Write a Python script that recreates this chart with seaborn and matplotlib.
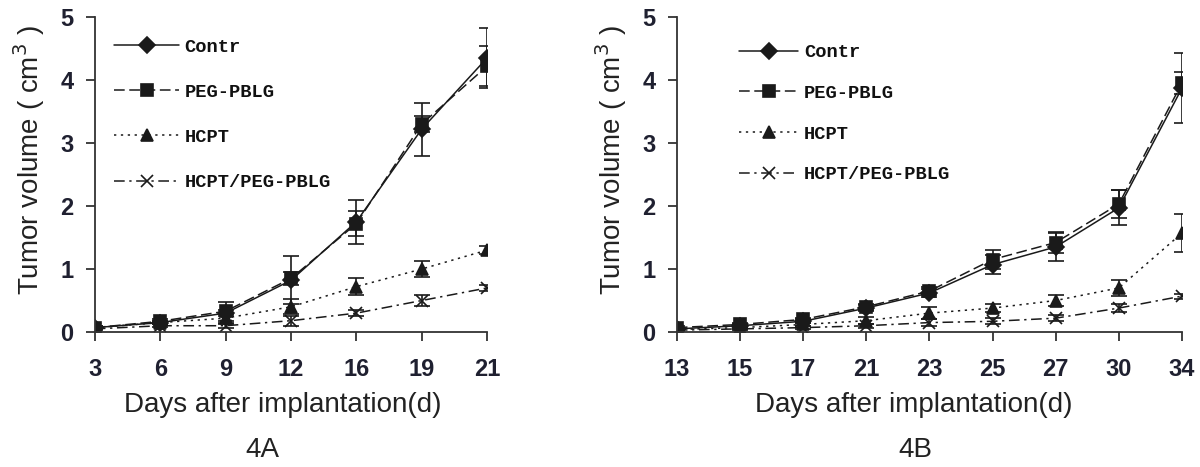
import numpy as np
import pandas as pd
import matplotlib
matplotlib.use("Agg")
import matplotlib.pyplot as plt
import seaborn as sns

# ---- data ----
series_names = ["Contr", "PEG-PBLG", "HCPT", "HCPT/PEG-PBLG"]

days_a = [3, 6, 9, 12, 16, 19, 21]
contr_a = [0.07, 0.15, 0.30, 0.82, 1.75, 3.22, 4.35]
contr_a_err = [0.02, 0.03, 0.05, 0.38, 0.35, 0.42, 0.48]
peg_a = [0.07, 0.17, 0.33, 0.85, 1.72, 3.30, 4.22]
peg_a_err = [0.02, 0.03, 0.15, 0.10, 0.20, 0.12, 0.32]
hcpt_a = [0.07, 0.15, 0.22, 0.40, 0.72, 1.00, 1.30]
hcpt_a_err = [0.02, 0.03, 0.07, 0.12, 0.13, 0.13, 0.07]
combo_a = [0.05, 0.10, 0.10, 0.18, 0.30, 0.50, 0.70]
combo_a_err = [0.02, 0.02, 0.03, 0.08, 0.05, 0.08, 0.05]

days_b = [13, 15, 17, 21, 23, 25, 27, 30, 34]
contr_b = [0.05, 0.10, 0.17, 0.38, 0.62, 1.07, 1.35, 1.97, 3.87]
contr_b_err = [0.02, 0.02, 0.03, 0.05, 0.06, 0.15, 0.22, 0.28, 0.55]
peg_b = [0.07, 0.12, 0.20, 0.40, 0.65, 1.15, 1.42, 2.03, 3.95]
peg_b_err = [0.02, 0.02, 0.03, 0.05, 0.06, 0.15, 0.17, 0.22, 0.18]
hcpt_b = [0.04, 0.07, 0.12, 0.18, 0.30, 0.38, 0.50, 0.70, 1.57]
hcpt_b_err = [0.01, 0.02, 0.03, 0.06, 0.10, 0.07, 0.08, 0.13, 0.30]
combo_b = [0.03, 0.05, 0.07, 0.10, 0.15, 0.17, 0.22, 0.38, 0.57]
combo_b_err = [0.01, 0.01, 0.02, 0.03, 0.05, 0.05, 0.05, 0.07, 0.04]

y_ticks = [0, 1, 2, 3, 4, 5]
panel_labels = ["4A", "4B"]

sns.set_theme(style="white")
plt.rcParams["font.family"] = ["Liberation Sans", "DejaVu Sans"]

fig = plt.figure(figsize=(12, 4.67), dpi=100)
ax_a = fig.add_axes([0.079, 0.289, 0.327, 0.675])
ax_b = fig.add_axes([0.564, 0.289, 0.421, 0.675])

styles = [
    dict(ls="-", marker="D", ms=8),
    dict(ls=(0, (7, 3)), marker="s", ms=8),
    dict(ls=(0, (1.5, 3)), marker="^", ms=9),
    dict(ls=(0, (7, 3, 1.5, 3)), marker="x", ms=8),
]
ink = "#1a1a1a"
tick_col = "#1f2030"


def draw(ax, days, vals, errs, label_pos, spacing, handle_len, panel, panel_x,
         ylab_x, xlab_x):
    pos = np.arange(len(days))
    rows = []
    for name, v in zip(series_names, vals):
        for p, y in zip(pos, v):
            rows.append(dict(pos=p, vol=y, group=name))
    df = pd.DataFrame(rows)
    for name, v, e, st in zip(series_names, vals, errs, styles):
        sub = df[df.group == name]
        sns.lineplot(data=sub, x="pos", y="vol", ax=ax, color=ink, lw=1.1,
                     linestyle=st["ls"], marker=st["marker"], markersize=st["ms"],
                     markeredgecolor=ink, markerfacecolor=ink, markeredgewidth=1.2,
                     label=name, legend=False)
        ax.errorbar(pos, v, yerr=e, fmt="none", ecolor=ink, elinewidth=1.2,
                    capsize=6, capthick=1.2)
    ax.set_xlim(0, len(days) - 1)
    ax.set_ylim(0, 5)
    ax.set_xticks(pos)
    ax.set_xticklabels([str(d) for d in days])
    ax.set_yticks(y_ticks)
    for s in ["top", "right"]:
        ax.spines[s].set_visible(False)
    for s in ["left", "bottom"]:
        ax.spines[s].set_color("#333333")
        ax.spines[s].set_linewidth(1.3)
    ax.tick_params(axis="both", which="major", direction="out", length=6.5,
                   width=1.3, color="#333333", labelsize=17, labelcolor=tick_col,
                   bottom=True, left=True)
    ax.tick_params(axis="x", pad=12)
    ax.tick_params(axis="y", pad=9)
    for t in ax.get_xticklabels() + ax.get_yticklabels():
        t.set_fontweight("bold")
    ax.set_xlabel("Days after implantation(d)", fontsize=20, color="#222222")
    ax.set_ylabel("Tumor volume ( cm$^{3}$ )", fontsize=20, color="#222222")
    ax.xaxis.set_label_coords(xlab_x, -0.232)
    ax.xaxis.label.set_va("center")
    ax.yaxis.set_label_coords(ylab_x, 0.546)
    ax.yaxis.label.set_va("center")
    ax.grid(False)
    leg = ax.legend(loc="upper left", bbox_to_anchor=label_pos, frameon=False,
                    handlelength=handle_len, labelspacing=spacing, handletextpad=0.3,
                    prop=dict(family="Liberation Mono", weight="bold", size=13.5))
    for t in leg.get_texts():
        t.set_color("#111111")
    fig.text(panel_x, 0.036, panel, ha="center", va="center",
             fontsize=20, color="#222222")


draw(ax_a, days_a, [contr_a, peg_a, hcpt_a, combo_a],
     [contr_a_err, peg_a_err, hcpt_a_err, combo_a_err], (0.007, 0.985), 1.5, 3.45,
     panel_labels[0], 0.219, -0.168, 0.48)
draw(ax_b, days_b, [contr_b, peg_b, hcpt_b, combo_b],
     [contr_b_err, peg_b_err, hcpt_b_err, combo_b_err], (0.09, 0.967), 1.26, 3.15,
     panel_labels[1], 0.763, -0.131, 0.469)

fig.savefig("out.png", dpi=100, facecolor="white")
